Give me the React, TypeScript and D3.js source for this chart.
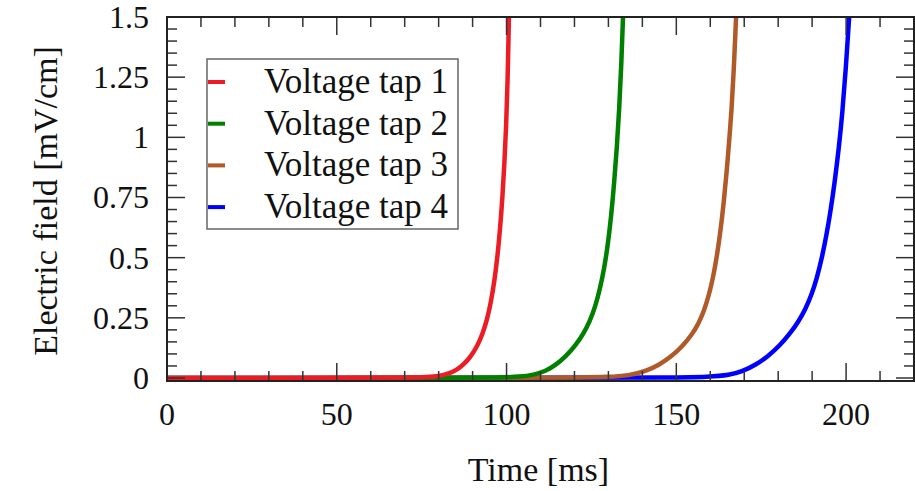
import React from "react";
import * as d3 from "d3";

const seriesNames = ["Voltage tap 1", "Voltage tap 2", "Voltage tap 3", "Voltage tap 4"];
const seriesColors = ["#ec1c24", "#008000", "#b05a2a", "#0000ff"];

const tap1Time = [0, 55, 70, 77, 80, 83, 85.5, 87.5, 89.5, 91.5, 93, 94.3, 95.4, 96.4, 97.3, 98.1, 98.8, 99.4, 99.9, 100.3, 100.7];
const tap1Field = [0, 0.0005, 0.002, 0.004, 0.007, 0.018, 0.035, 0.058, 0.09, 0.135, 0.185, 0.245, 0.315, 0.4, 0.5, 0.62, 0.75, 0.9, 1.05, 1.22, 1.5];

const tap2Time = [0, 85, 98, 104, 108, 111.5, 114.6, 117.5, 120.3, 122.6, 124.5, 126.1, 127.5, 128.7, 129.8, 130.8, 131.7, 132.5, 133.2, 133.8, 134.3];
const tap2Field = [0, 0.0005, 0.002, 0.005, 0.013, 0.028, 0.055, 0.09, 0.135, 0.182, 0.235, 0.295, 0.37, 0.45, 0.55, 0.67, 0.81, 0.96, 1.12, 1.3, 1.5];

const tap3Time = [0, 105, 122, 130, 136, 141, 145, 148.6, 151.8, 154.6, 156.5, 158.2, 159.6, 160.8, 162, 163, 163.9, 164.8, 165.6, 166.3, 166.9, 167.6];
const tap3Field = [0, 0.0005, 0.002, 0.004, 0.01, 0.028, 0.055, 0.09, 0.132, 0.18, 0.225, 0.28, 0.345, 0.415, 0.51, 0.61, 0.72, 0.85, 0.99, 1.12, 1.27, 1.5];

const tap4Time = [0, 125, 148, 160, 165.6, 169.5, 173.4, 177, 180.5, 183.5, 186, 188, 189.8, 191.3, 192.9, 194.3, 195.5, 196.7, 197.9, 198.9, 199.9, 200.9];
const tap4Field = [0, 0.0005, 0.002, 0.005, 0.012, 0.028, 0.055, 0.09, 0.135, 0.185, 0.235, 0.285, 0.345, 0.41, 0.5, 0.6, 0.7, 0.82, 0.96, 1.1, 1.28, 1.5];

const xTickValues = [0, 50, 100, 150, 200];
const yTickValues = [0, 0.25, 0.5, 0.75, 1, 1.25, 1.5];
const yTickLabels = ["0", "0.25", "0.5", "0.75", "1", "1.25", "1.5"];

const W = 915;
const H = 491;
const left = 167;
const right = 914;
const top = 17;
const bottom = 381;
const font = "'Liberation Serif', Tinos, 'Times New Roman', Times, serif";

export default function App() {
  const x = d3.scaleLinear().domain([0, 220]).range([left, right]);
  const y = d3.scaleLinear().domain([-0.0125, 1.5]).range([bottom, top]);

  const series = [
    { t: tap1Time, v: tap1Field },
    { t: tap2Time, v: tap2Field },
    { t: tap3Time, v: tap3Field },
    { t: tap4Time, v: tap4Field },
  ];

  const line = d3
    .line<[number, number]>()
    .x((d) => x(d[0]))
    .y((d) => y(d[1]))
    .curve(d3.curveBasis);

  const xMinor = d3.range(0, 221, 10);
  const yMinor = d3.range(0, 1.5001, 0.05);
  const majorLen = 18;
  const minorLen = 10;

  const legendX = 207;
  const legendY = 59;
  const legendW = 251;
  const legendH = 170;
  const rowY0 = 82;
  const rowStep = 41.7;

  const textStyle = { fontFamily: font } as React.CSSProperties;

  return (
    <svg
      width={W}
      height={H}
      style={{ position: "absolute", left: 0, top: 0, background: "#fff", fontFamily: font }}
    >
      <defs>
        <clipPath id="plotClip">
          <rect x={left} y={top} width={right - left} height={bottom - top} />
        </clipPath>
      </defs>
      <rect x={0} y={0} width={W} height={H} fill="#fff" />

      <g clipPath="url(#plotClip)">
        {series
          .map((s, i) => ({ s, i }))
          .reverse()
          .map(({ s, i }) => (
            <path
              key={i}
              d={line(s.t.map((t, k) => [t, s.v[k]] as [number, number])) || ""}
              fill="none"
              stroke={seriesColors[i]}
              strokeWidth={4.5}
              strokeLinejoin="round"
            />
          ))}
      </g>

      <g stroke="#333" strokeWidth={1.5}>
        {xMinor.map((v) => {
          const isMajor = v % 50 === 0;
          const len = isMajor ? majorLen : minorLen;
          return (
            <g key={"xm" + v}>
              <line x1={x(v)} x2={x(v)} y1={bottom} y2={bottom - len} />
              <line x1={x(v)} x2={x(v)} y1={top} y2={top + len} />
            </g>
          );
        })}
        {yMinor.map((v, k) => {
          const isMajor = k % 5 === 0;
          const len = isMajor ? majorLen : minorLen;
          return (
            <g key={"ym" + k}>
              <line x1={left} x2={left + len} y1={y(v)} y2={y(v)} />
              <line x1={right} x2={right - len} y1={y(v)} y2={y(v)} />
            </g>
          );
        })}
      </g>

      <rect
        x={left}
        y={top}
        width={right - left}
        height={bottom - top}
        fill="none"
        stroke="#222"
        strokeWidth={2}
      />

      <g fontSize={32} fill="#111">
        {xTickValues.map((v) => (
          <text key={"xt" + v} x={x(v)} y={425} textAnchor="middle" style={textStyle}>
            {v}
          </text>
        ))}
        {yTickValues.map((v, k) => (
          <text key={"yt" + k} x={149} y={y(v) + 11} textAnchor="end" style={textStyle}>
            {yTickLabels[k]}
          </text>
        ))}
      </g>

      <text x={(left + right) / 2 - 2} y={481} textAnchor="middle" fontSize={34} fill="#111" style={textStyle}>
        Time [ms]
      </text>
      <text
        transform={`translate(57, ${(top + bottom) / 2 + 2}) rotate(-90)`}
        textAnchor="middle"
        fontSize={34}
        fill="#111"
        style={textStyle}
      >
        Electric field [mV/cm]
      </text>

      <rect
        x={legendX}
        y={legendY}
        width={legendW}
        height={legendH}
        fill="#fff"
        stroke="#666"
        strokeWidth={1.5}
      />
      {seriesNames.map((name, i) => (
        <g key={name}>
          <line
            x1={legendX + 1}
            x2={legendX + 18}
            y1={rowY0 + i * rowStep}
            y2={rowY0 + i * rowStep}
            stroke={seriesColors[i]}
            strokeWidth={4}
          />
          <text
            x={448}
            y={rowY0 + i * rowStep + 11}
            textAnchor="end"
            fontSize={35}
            fill="#111"
            style={textStyle}
          >
            {name}
          </text>
        </g>
      ))}
    </svg>
  );
}
